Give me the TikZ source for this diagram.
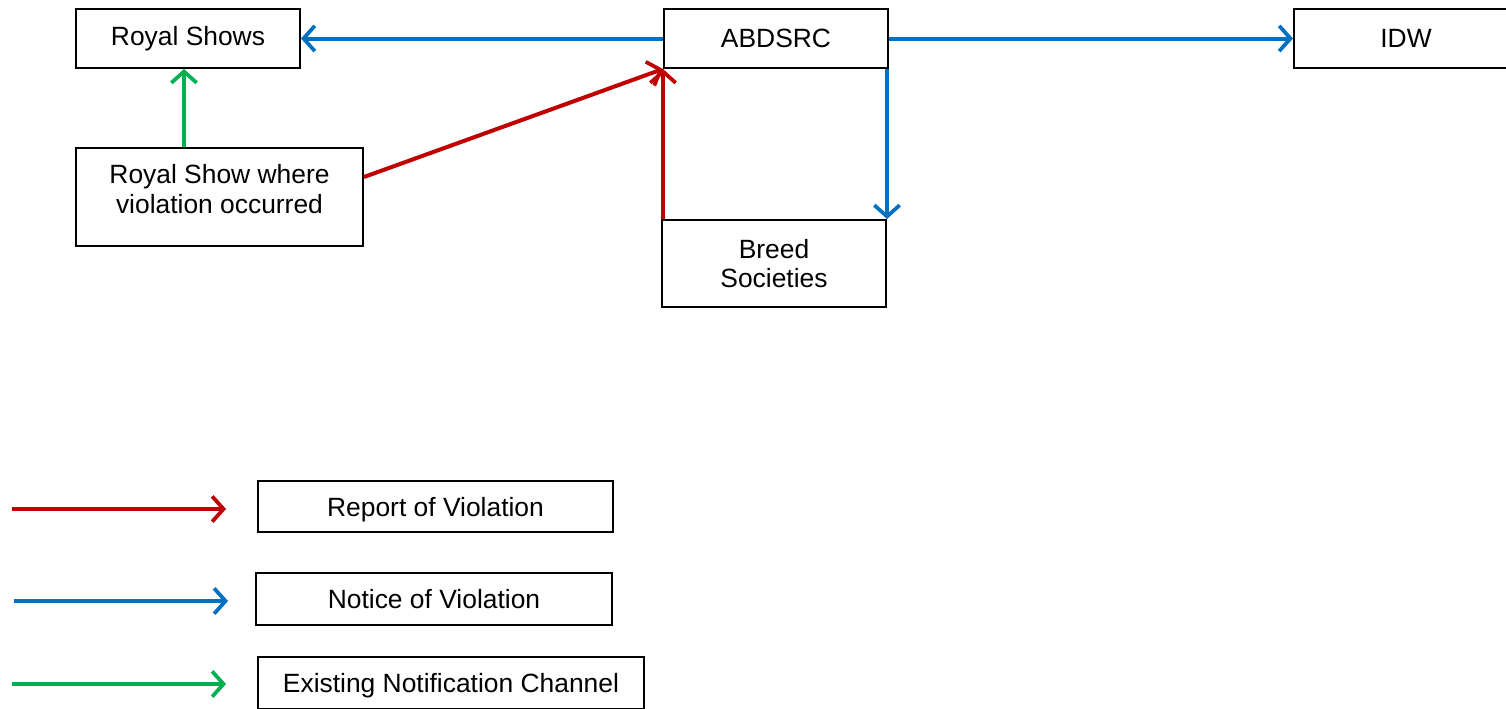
\documentclass[tikz,border=0pt]{standalone}
\usepackage{fontspec}
\setmainfont{Liberation Sans}
\usetikzlibrary{arrows.meta,calc}
\definecolor{cred}{HTML}{C00000}
\definecolor{cblue}{HTML}{0070C0}
\definecolor{cgreen}{HTML}{00B050}
\begin{document}
\begin{tikzpicture}[x=0.75pt,y=-0.75pt,
  box/.style={draw=black,line width=1.5pt,fill=white,inner sep=0pt,align=center,
    font=\fontsize{19.8pt}{22.2pt}\selectfont},
  legbox/.style={box,text depth=0pt},
  conn/.style={line width=3pt,-{Straight Barb[length=8.5pt,width=19pt,line width=2.8pt]}},
  rep/.style={conn,draw=cred},
  note/.style={conn,draw=cblue},
  exist/.style={conn,draw=cgreen}]
\useasboundingbox (0,0) rectangle (1506,708);
\begin{scope}
\clip (0,0) rectangle (1506,708);
% main boxes
\node[box,minimum width={224*0.75pt},minimum height={59*0.75pt}] (RS) at (188,38.5) {Royal Shows};
\node[box,minimum width={224*0.75pt},minimum height={59*0.75pt}] (AB) at (776,38.5) {ABDSRC};
\node[box,minimum width={224*0.75pt},minimum height={59*0.75pt}] (IDW) at (1406,38.5) {IDW};
\node[box,minimum width={287*0.75pt},minimum height={98*0.75pt},text depth=12pt] (RSW) at (219.5,197) {Royal Show where\\violation occurred};
\node[box,minimum width={224*0.75pt},minimum height={87*0.75pt}] (BS) at (774,263.5) {Breed\\Societies};
% connectors
\draw[note] (AB.west) -- (RS.east);
\draw[note] (AB.east) -- (IDW.west);
\draw[note] (AB.south east -| BS.north east) -- (BS.north east);
\draw[exist] ([xshift=-3pt]RS.south |- RSW.north) -- ([xshift=-3pt]RS.south);
\draw[rep] ([yshift=-22.5pt]RSW.north east) -- (AB.south west);
\draw[rep] (BS.north west -| AB.south west) -- (AB.south west);
% legend
\node[legbox,minimum width={355*0.75pt},minimum height={51*0.75pt}] (L1) at (435.5,506.5) {Report of Violation};
\node[legbox,minimum width={356*0.75pt},minimum height={52*0.75pt}] (L2) at (434,599) {Notice of Violation};
\node[legbox,minimum width={386*0.75pt},minimum height={52*0.75pt}] (L3) at (451,683) {Existing Notification Channel};
\coordinate (r1) at (12,509); \coordinate (r2) at (226,509);
\coordinate (b1) at (14,601); \coordinate (b2) at (228,601);
\coordinate (g1) at (12,684); \coordinate (g2) at (226,684);
\draw[rep] (r1) -- (r2);
\draw[note] (b1) -- (b2);
\draw[exist] (g1) -- (g2);
\end{scope}
\end{tikzpicture}
\end{document}
